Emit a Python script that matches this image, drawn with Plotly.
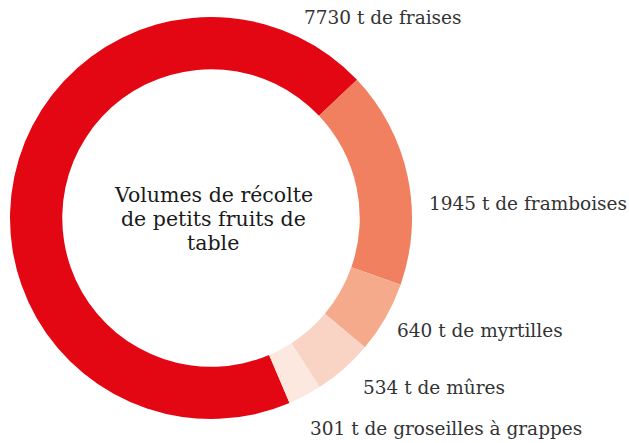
import plotly.graph_objects as go

fruits = ["fraises", "framboises", "myrtilles", "mûres", "groseilles à grappes"]
tonnes = [7730, 1945, 640, 534, 301]
colors = ["#E30613", "#F0805F", "#F6AA8C", "#F9D4C4", "#FDE8DF"]
center_lines = ["Volumes de récolte", "de petits fruits de", "table"]

fig = go.Figure(go.Pie(
    labels=fruits,
    values=tonnes,
    hole=0.74,
    sort=False,
    direction="clockwise",
    rotation=157,
    marker=dict(colors=colors, line=dict(width=0)),
    textinfo="none",
    showlegend=False,
    domain=dict(x=[10/629, 412/629], y=[24/443, 426/443]),
))

label_pos = [(302, 18), (427, 203), (395, 330), (361, 387), (308, 428)]
font_fam = "Roboto Slab, DejaVu Serif, serif"
for f, t, (x, y) in zip(fruits, tonnes, label_pos):
    fig.add_annotation(
        x=x/629, y=1 - y/443, xref="paper", yref="paper",
        xanchor="left", yanchor="middle", showarrow=False,
        text=f"{t} t de {f}",
        font=dict(family=font_fam, size=18.5, color="#333333"),
    )

for line, y in zip(center_lines, [195, 219, 243]):
    fig.add_annotation(
        x=213/629, y=1 - y/443, xref="paper", yref="paper",
        xanchor="center", yanchor="middle", showarrow=False,
        text=line,
        font=dict(family=font_fam, size=20.5, color="#1a1a1a"),
    )

fig.update_layout(
    width=629, height=443,
    margin=dict(l=0, r=0, t=0, b=0),
    paper_bgcolor="white", plot_bgcolor="white",
)
fig.write_html("out.html")
